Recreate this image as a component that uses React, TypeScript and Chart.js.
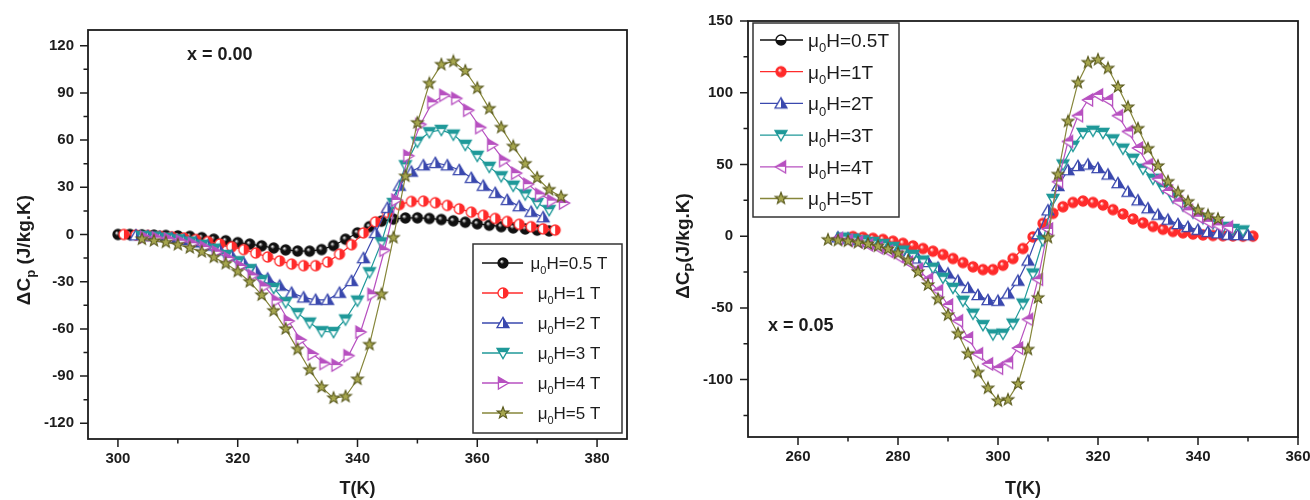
import React, { useEffect, useRef } from 'react';
import { Chart, registerables } from 'chart.js';

Chart.register(...registerables);

const FONT = "'Liberation Sans', Arial, Helvetica, sans-serif";
const INK = '#1c1c1c';

// ---------- Left panel (x = 0.00) ----------
const leftT05 = [300, 302, 304, 306, 308, 310, 312, 314, 316, 318, 320, 322, 324, 326, 328, 330, 332, 334, 336, 338, 340, 342, 344, 346, 348, 350, 352, 354, 356, 358, 360, 362, 364, 366, 368, 370, 372];
const leftV05 = [0, 0, -0.2, -0.4, -0.6, -0.9, -1.2, -2, -3, -4, -5.2, -6.1, -7.2, -8.6, -9.8, -10.5, -10.6, -9.6, -7, -3, 1, 5, 8.5, 9.8, 10.5, 10.6, 10.2, 9.5, 8.7, 7.8, 6.8, 5.9, 5, 4.2, 3.5, 2.8, 2.3];
const leftT1 = [301, 303, 305, 307, 309, 311, 313, 315, 317, 319, 321, 323, 325, 327, 329, 331, 333, 335, 337, 339, 341, 343, 345, 347, 349, 351, 353, 355, 357, 359, 361, 363, 365, 367, 369, 371, 373];
const leftV1 = [0, -0.3, -0.6, -1, -1.5, -2.2, -3.2, -4.5, -6, -7.8, -9.6, -11.8, -14.3, -16.8, -18.8, -19.8, -19.8, -17.5, -12.5, -6.5, 1, 8, 14, 19, 21, 21.2, 20.2, 18.5, 16.3, 14.2, 12.2, 10.2, 8.3, 6.5, 5, 3.6, 2.8];
const leftT2 = [303, 305, 307, 309, 311, 313, 315, 317, 319, 321, 323, 325, 327, 329, 331, 333, 335, 337, 339, 341, 343, 345, 347, 349, 351, 353, 355, 357, 359, 361, 363, 365, 367, 369, 371];
const leftV2 = [-0.5, -1, -1.5, -2.3, -3.5, -5, -7, -10, -13.5, -18, -23, -28, -32.5, -37, -40, -41.5, -41.5, -37, -29.5, -15, 1, 17, 31, 40, 44, 45.5, 44, 41, 36, 31, 26.5, 22, 18, 14.5, 11];
const leftT3 = [304, 306, 308, 310, 312, 314, 316, 318, 320, 322, 324, 326, 328, 330, 332, 334, 336, 338, 340, 342, 344, 346, 348, 350, 352, 354, 356, 358, 360, 362, 364, 366, 368, 370, 372];
const leftV3 = [-0.8, -1.2, -2, -3, -4.5, -6.5, -9, -13, -17, -22, -29, -34, -43, -50, -56, -61.5, -62, -54, -42, -24, -5, 20, 44, 59, 65, 66.5, 63.5, 57, 50, 43, 37, 31, 25.5, 20, 15.5];
const leftT4 = [304.5, 306.5, 308.5, 310.5, 312.5, 314.5, 316.5, 318.5, 320.5, 322.5, 324.5, 326.5, 328.5, 330.5, 332.5, 334.5, 336.5, 338.5, 340.5, 342.5, 344.5, 346.5, 348.5, 350.5, 352.5, 354.5, 356.5, 358.5, 360.5, 362.5, 364.5, 366.5, 368.5, 370.5, 372.5, 374.5];
const leftV4 = [-1.5, -2, -2.8, -4, -5.6, -8, -11, -15, -20, -26, -33, -42, -55, -67, -76, -82, -83, -77, -62, -38, -10, 22, 50, 70, 84, 88.5, 86.5, 79, 68, 57, 47, 39, 32, 25.5, 21.5, 20];
const leftT5 = [304, 306, 308, 310, 312, 314, 316, 318, 320, 322, 324, 326, 328, 330, 332, 334, 336, 338, 340, 342, 344, 346, 348, 350, 352, 354, 356, 358, 360, 362, 364, 366, 368, 370, 372, 374];
const leftV5 = [-3, -4, -5, -6.5, -8.5, -11, -14.5, -18.5, -23.5, -30, -38.5, -48.5, -60, -73, -86, -97, -104, -103, -92, -70, -38, -2, 37, 71, 96, 108, 110, 104, 93, 80, 68, 56, 45, 36, 28.5, 24];

// ---------- Right panel (x = 0.05) ----------
const rightT05: number[] = [];
const rightV05: number[] = [];
const rightT1 = [271, 273, 275, 277, 279, 281, 283, 285, 287, 289, 291, 293, 295, 297, 299, 301, 303, 305, 307, 309, 311, 313, 315, 317, 319, 321, 323, 325, 327, 329, 331, 333, 335, 337, 339, 341, 343, 345, 347, 349, 351];
const rightV1 = [-0.3, -0.8, -1.5, -2.3, -3.5, -5, -6.8, -8.6, -10.5, -12.8, -15.6, -18.4, -21.4, -23.3, -23.3, -20.3, -15.6, -8.6, -0.5, 8.9, 15.9, 20.5, 23.5, 24.5, 23.5, 21.7, 18.5, 15.5, 12, 9.3, 6.8, 4.8, 3.3, 2.3, 1.5, 0.9, 0.5, 0.3, 0.2, 0, 0];
const rightT2 = [268, 270, 272, 274, 276, 278, 280, 282, 284, 286, 288, 290, 292, 294, 296, 298, 300, 302, 304, 306, 308, 310, 312, 314, 316, 318, 320, 322, 324, 326, 328, 330, 332, 334, 336, 338, 340, 342, 344, 346, 348, 350];
const rightV2 = [-0.8, -1.5, -2.5, -3.8, -5.5, -8, -10.5, -13, -15.5, -18, -22, -26, -31, -36, -41, -44.5, -45, -40, -31, -17, 1.5, 18, 35, 46, 49, 50, 47.5, 43, 37, 31, 25, 19.5, 15, 11.5, 8.5, 6.5, 4.5, 3, 2, 1, 0.8, 0.7];
const rightT3 = [269, 271, 273, 275, 277, 279, 281, 283, 285, 287, 289, 291, 293, 295, 297, 299, 301, 303, 305, 307, 309, 311, 313, 315, 317, 319, 321, 323, 325, 327, 329, 331, 333, 335, 337, 339, 341, 343, 345, 347, 349];
const rightV3 = [-1, -1.8, -2.8, -4, -5.5, -7.5, -10, -13, -17, -22, -29, -36, -45, -54, -62, -68.5, -68, -61, -47, -26, -3, 26, 50, 63, 72, 73.5, 72, 67.5, 61, 54, 47, 40, 33.5, 27, 21.5, 16.5, 12.5, 9, 6.5, 5, 4];
const rightT4 = [268, 270, 272, 274, 276, 278, 280, 282, 284, 286, 288, 290, 292, 294, 296, 298, 300, 302, 304, 306, 308, 310, 312, 314, 316, 318, 320, 322, 324, 326, 328, 330, 332, 334, 336, 338, 340, 342, 344, 346];
const rightV4 = [-1.5, -2.8, -4, -6, -8, -10.5, -14, -18, -23, -30, -38, -48, -59, -71, -82, -89, -92, -88, -78, -58, -30, 5, 38, 66, 84, 95, 98.5, 95, 84, 73, 61.5, 50, 40, 31.5, 24, 18, 13.5, 10, 7.5, 6.5];
const rightT5 = [266, 268, 270, 272, 274, 276, 278, 280, 282, 284, 286, 288, 290, 292, 294, 296, 298, 300, 302, 304, 306, 308, 310, 312, 314, 316, 318, 320, 322, 324, 326, 328, 330, 332, 334, 336, 338, 340, 342, 344];
const rightV5 = [-2.5, -3, -3.5, -4.5, -5.5, -7, -9, -12, -17, -25, -34, -44, -55, -68, -82, -95, -106, -115, -114, -103, -79, -43, -1, 43, 80, 107, 121, 123, 117, 104, 90, 75, 61, 49, 38, 30.5, 24, 18, 14.5, 12];

// ---------- Axes / labels ----------
const leftXMajor = [300, 320, 340, 360, 380];
const leftXMinor = [310, 330, 350, 370];
const leftYMajor = [-120, -90, -60, -30, 0, 30, 60, 90, 120];
const leftYMinor = [-105, -75, -45, -15, 15, 45, 75, 105];
const rightXMajor = [260, 280, 300, 320, 340, 360];
const rightXMinor = [270, 290, 310, 330, 350];
const rightYMajor = [-100, -50, 0, 50, 100, 150];
const rightYMinor = [-125, -75, -25, 25, 75, 125];

const leftLabels = ['μ_0H=0.5 T', 'μ_0H=1 T', 'μ_0H=2 T', 'μ_0H=3 T', 'μ_0H=4 T', 'μ_0H=5 T'];
const rightLabels = ['μ_0H=0.5T', 'μ_0H=1T', 'μ_0H=2T', 'μ_0H=3T', 'μ_0H=4T', 'μ_0H=5T'];
const seriesColors = ['#111111', '#ff2b2b', '#3a48ae', '#1f9999', '#b750c0', '#86863a'];

type Kind = 'sphere' | 'halfRight' | 'halfBottom' | 'triUp' | 'triDown' | 'triRight' | 'triLeft' | 'star';
const leftKinds: Kind[] = ['sphere', 'halfRight', 'triUp', 'triDown', 'triRight', 'star'];
const rightKinds: Kind[] = ['halfBottom', 'sphere', 'triUp', 'triDown', 'triLeft', 'star'];

const MS = 16;

function makeMarker(kind: Kind, color: string): HTMLCanvasElement {
  const c = document.createElement('canvas');
  c.width = MS;
  c.height = MS;
  const g = c.getContext('2d')!;
  const m = MS / 2;
  g.lineWidth = 1.3;
  g.strokeStyle = color;
  g.lineJoin = 'miter';
  const p = new Path2D();
  if (kind === 'sphere' || kind === 'halfRight' || kind === 'halfBottom') {
    p.arc(m, m, 5, 0, Math.PI * 2);
  } else if (kind === 'triUp') {
    p.moveTo(m, m - 5.6); p.lineTo(m + 6, m + 4.6); p.lineTo(m - 6, m + 4.6); p.closePath();
  } else if (kind === 'triDown') {
    p.moveTo(m - 6, m - 4.6); p.lineTo(m + 6, m - 4.6); p.lineTo(m, m + 5.6); p.closePath();
  } else if (kind === 'triRight') {
    p.moveTo(m - 4.6, m - 6); p.lineTo(m + 5.6, m); p.lineTo(m - 4.6, m + 6); p.closePath();
  } else if (kind === 'triLeft') {
    p.moveTo(m + 4.6, m - 6); p.lineTo(m - 5.6, m); p.lineTo(m + 4.6, m + 6); p.closePath();
  } else {
    for (let k = 0; k < 10; k++) {
      const r = k % 2 ? 2.6 : 6.2;
      const a = -Math.PI / 2 + (k * Math.PI) / 5;
      const x = m + r * Math.cos(a);
      const y = m + r * Math.sin(a);
      if (k === 0) p.moveTo(x, y); else p.lineTo(x, y);
    }
    p.closePath();
  }
  if (kind === 'sphere') {
    const gr = g.createRadialGradient(m - 1.6, m - 1.8, 0.2, m, m, 5.2);
    gr.addColorStop(0, '#ffffff');
    gr.addColorStop(0.4, color);
    gr.addColorStop(1, color);
    g.fillStyle = gr;
    g.fill(p);
    g.stroke(p);
  } else if (kind === 'star') {
    g.fillStyle = '#a6a64e';
    g.fill(p);
    g.strokeStyle = '#5b5b1f';
    g.lineWidth = 1.1;
    g.stroke(p);
  } else {
    g.fillStyle = '#ffffff';
    g.fill(p);
    g.save();
    g.clip(p);
    g.fillStyle = color;
    if (kind === 'halfRight' || kind === 'triUp') g.fillRect(m, 0, MS, MS);
    else if (kind === 'halfBottom') g.fillRect(0, m, MS, MS);
    else if (kind === 'triDown') g.fillRect(0, 0, MS, m - 0.8);
    else g.fillRect(0, 0, MS, m);
    g.restore();
    g.stroke(p);
  }
  return c;
}

function segments(text: string) {
  const out: { t: string; sub: boolean }[] = [];
  let buf = '';
  for (let i = 0; i < text.length; i++) {
    if (text[i] === '_' && i + 1 < text.length) {
      if (buf) out.push({ t: buf, sub: false });
      buf = '';
      out.push({ t: text[i + 1], sub: true });
      i++;
    } else buf += text[i];
  }
  if (buf) out.push({ t: buf, sub: false });
  return out;
}

function drawRich(ctx: CanvasRenderingContext2D, text: string, x: number, y: number, size: number, bold: boolean, align: 'left' | 'center') {
  const segs = segments(text);
  const fMain = `${bold ? 'bold ' : ''}${size}px ${FONT}`;
  const fSub = `${bold ? 'bold ' : ''}${Math.round(size * 0.66)}px ${FONT}`;
  const widths = segs.map((s) => {
    ctx.font = s.sub ? fSub : fMain;
    return ctx.measureText(s.t).width;
  });
  const total = widths.reduce((a, b) => a + b, 0);
  let cx = align === 'center' ? x - total / 2 : x;
  ctx.textAlign = 'left';
  ctx.textBaseline = 'alphabetic';
  segs.forEach((s, i) => {
    ctx.font = s.sub ? fSub : fMain;
    ctx.fillText(s.t, cx, s.sub ? y + size * 0.28 : y);
    cx += widths[i];
  });
}

interface LegendCfg {
  fromRight: boolean; dx: number; fromBottom: boolean; dy: number; w: number; h: number;
  firstRow: number; spacing: number; lineX0: number; lineX1: number; markX: number;
  textX: number; align: 'left' | 'center'; size: number;
}

interface PanelCfg {
  series: { label: string; t: number[]; v: number[]; color: string; kind: Kind }[];
  xMin: number; xMax: number; yMin: number; yMax: number;
  xMajor: number[]; xMinor: number[]; yMajor: number[]; yMinor: number[];
  padTop: number; padRight: number; yWidth: number; xHeight: number;
  yPad: number; xPad: number;
  yTitle: string; yTitleX: number; yTitleY: number;
  note: string; noteDx: number; noteDy: number;
  legend: LegendCfg;
}

function decorPlugin(cfg: PanelCfg, markers: HTMLCanvasElement[]) {
  return {
    id: 'decor',
    afterDraw(chart: any) {
      const { ctx, chartArea: a, scales } = chart;
      const xs = scales.x;
      const ys = scales.y;
      ctx.save();
      ctx.strokeStyle = INK;
      ctx.lineWidth = 1.8;
      ctx.strokeRect(a.left, a.top, a.right - a.left, a.bottom - a.top);
      ctx.lineWidth = 1.5;
      ctx.beginPath();
      const xt = (vals: number[], len: number) => vals.forEach((v) => {
        const p = xs.getPixelForValue(v);
        ctx.moveTo(p, a.bottom); ctx.lineTo(p, a.bottom + len);
      });
      const yt = (vals: number[], len: number) => vals.forEach((v) => {
        const p = ys.getPixelForValue(v);
        ctx.moveTo(a.left, p); ctx.lineTo(a.left - len, p);
      });
      xt(cfg.xMajor, 8); xt(cfg.xMinor, 4.5); yt(cfg.yMajor, 8); yt(cfg.yMinor, 4.5);
      ctx.stroke();

      // y title
      ctx.fillStyle = INK;
      ctx.save();
      ctx.translate(cfg.yTitleX, cfg.yTitleY);
      ctx.rotate(-Math.PI / 2);
      drawRich(ctx, cfg.yTitle, 0, 19 * 0.36, 19, true, 'center');
      ctx.restore();

      // note
      ctx.font = `bold 18px ${FONT}`;
      ctx.textAlign = 'left';
      ctx.textBaseline = 'middle';
      ctx.fillText(cfg.note, a.left + cfg.noteDx, a.top + cfg.noteDy);

      // legend
      const L = cfg.legend;
      const bx = L.fromRight ? a.right - L.dx : a.left + L.dx;
      const by = L.fromBottom ? a.bottom - L.dy : a.top + L.dy;
      ctx.fillStyle = '#ffffff';
      ctx.fillRect(bx, by, L.w, L.h);
      ctx.strokeStyle = '#333333';
      ctx.lineWidth = 1.5;
      ctx.strokeRect(bx, by, L.w, L.h);
      cfg.series.forEach((s, i) => {
        const ry = by + L.firstRow + i * L.spacing;
        ctx.strokeStyle = s.color;
        ctx.lineWidth = 1.3;
        ctx.beginPath();
        ctx.moveTo(bx + L.lineX0, ry);
        ctx.lineTo(bx + L.lineX1, ry);
        ctx.stroke();
        ctx.drawImage(markers[i], bx + L.markX - MS / 2, ry - MS / 2);
        ctx.fillStyle = INK;
        drawRich(ctx, s.label, bx + L.textX, ry + L.size * 0.36, L.size, false, L.align);
      });
      ctx.restore();
    },
  };
}

function buildConfig(cfg: PanelCfg): any {
  const markers = cfg.series.map((s) => makeMarker(s.kind, s.color));
  const n = cfg.series.length;
  const tickFont = { family: FONT, size: 15, weight: 'bold' as const };
  return {
    type: 'scatter',
    data: {
      datasets: cfg.series.map((s, i) => ({
        label: s.label,
        data: s.t.map((t, k) => ({ x: t, y: s.v[k] })),
        showLine: true,
        borderColor: s.color,
        backgroundColor: s.color,
        borderWidth: 1.2,
        pointStyle: markers[i],
        pointRadius: 6,
        pointHoverRadius: 6,
        tension: 0,
        order: n - i,
      })),
    },
    options: {
      animation: false,
      responsive: false,
      maintainAspectRatio: false,
      events: [],
      layout: { padding: { top: cfg.padTop, right: cfg.padRight, left: 0, bottom: 0 } },
      plugins: { legend: { display: false }, tooltip: { enabled: false } },
      scales: {
        x: {
          type: 'linear',
          min: cfg.xMin,
          max: cfg.xMax,
          afterFit: (s: any) => {
            s.height = cfg.xHeight;
            s.paddingLeft = 0;
            s.paddingRight = 0;
          },
          afterBuildTicks: (s: any) => { s.ticks = cfg.xMajor.map((v) => ({ value: v })); },
          grid: { display: false, drawTicks: false },
          border: { display: false },
          ticks: { font: tickFont, color: INK, padding: cfg.xPad, maxRotation: 0, autoSkip: false, callback: (v: any) => String(v) },
          title: { display: true, text: 'T(K)', color: INK, font: { family: FONT, size: 18, weight: 'bold' }, padding: 0 },
        },
        y: {
          type: 'linear',
          min: cfg.yMin,
          max: cfg.yMax,
          afterFit: (s: any) => {
            s.width = cfg.yWidth;
            s.paddingTop = 0;
            s.paddingBottom = 0;
          },
          afterBuildTicks: (s: any) => { s.ticks = cfg.yMajor.map((v) => ({ value: v })); },
          grid: { display: false, drawTicks: false },
          border: { display: false },
          ticks: { font: tickFont, color: INK, padding: cfg.yPad, autoSkip: false, callback: (v: any) => String(v) },
        },
      },
    },
    plugins: [decorPlugin(cfg, markers)],
  };
}

const leftCfg: PanelCfg = {
  series: [
    { label: leftLabels[0], t: leftT05, v: leftV05, color: seriesColors[0], kind: leftKinds[0] },
    { label: leftLabels[1], t: leftT1, v: leftV1, color: seriesColors[1], kind: leftKinds[1] },
    { label: leftLabels[2], t: leftT2, v: leftV2, color: seriesColors[2], kind: leftKinds[2] },
    { label: leftLabels[3], t: leftT3, v: leftV3, color: seriesColors[3], kind: leftKinds[3] },
    { label: leftLabels[4], t: leftT4, v: leftV4, color: seriesColors[4], kind: leftKinds[4] },
    { label: leftLabels[5], t: leftT5, v: leftV5, color: seriesColors[5], kind: leftKinds[5] },
  ],
  xMin: 295, xMax: 385, yMin: -130, yMax: 130,
  xMajor: leftXMajor, xMinor: leftXMinor, yMajor: leftYMajor, yMinor: leftYMinor,
  padTop: 30, padRight: 33, yWidth: 88, xHeight: 61, yPad: 14, xPad: 11,
  yTitle: 'ΔC_p (J/kg.K)', yTitleX: 23, yTitleY: 250,
  note: 'x = 0.00', noteDx: 99, noteDy: 25,
  legend: { fromRight: true, dx: 154, fromBottom: true, dy: 195, w: 149, h: 189, firstRow: 19, spacing: 30, lineX0: 9, lineX1: 50, markX: 30, textX: 96, align: 'center', size: 17 },
};

const rightCfg: PanelCfg = {
  series: [
    { label: rightLabels[0], t: rightT05, v: rightV05, color: seriesColors[0], kind: rightKinds[0] },
    { label: rightLabels[1], t: rightT1, v: rightV1, color: seriesColors[1], kind: rightKinds[1] },
    { label: rightLabels[2], t: rightT2, v: rightV2, color: seriesColors[2], kind: rightKinds[2] },
    { label: rightLabels[3], t: rightT3, v: rightV3, color: seriesColors[3], kind: rightKinds[3] },
    { label: rightLabels[4], t: rightT4, v: rightV4, color: seriesColors[4], kind: rightKinds[4] },
    { label: rightLabels[5], t: rightT5, v: rightV5, color: seriesColors[5], kind: rightKinds[5] },
  ],
  xMin: 250, xMax: 360, yMin: -140, yMax: 150,
  xMajor: rightXMajor, xMinor: rightXMinor, yMajor: rightYMajor, yMinor: rightYMinor,
  padTop: 21, padRight: 12, yWidth: 88, xHeight: 63, yPad: 15, xPad: 11,
  yTitle: 'ΔC_P(J/kg.K)', yTitleX: 22, yTitleY: 246,
  note: 'x = 0.05', noteDx: 20, noteDy: 305,
  legend: { fromRight: false, dx: 5, fromBottom: false, dy: 2, w: 146, h: 194, firstRow: 17, spacing: 31.7, lineX0: 7, lineX1: 50, markX: 28, textX: 55, align: 'left', size: 19 },
};

function Panel({ cfg, left, width }: { cfg: PanelCfg; left: number; width: number }) {
  const ref = useRef<HTMLCanvasElement>(null);
  useEffect(() => {
    const chart = new Chart(ref.current as HTMLCanvasElement, buildConfig(cfg));
    return () => chart.destroy();
  }, [cfg]);
  return (
    <canvas
      ref={ref}
      width={width}
      height={500}
      style={{ position: 'absolute', left, top: 0, width, height: 500 }}
    />
  );
}

export default function App() {
  return (
    <div style={{ position: 'fixed', left: 0, top: 0, width: 1310, height: 500, background: '#ffffff', overflow: 'hidden' }}>
      <Panel cfg={leftCfg} left={0} width={660} />
      <Panel cfg={rightCfg} left={660} width={650} />
    </div>
  );
}
